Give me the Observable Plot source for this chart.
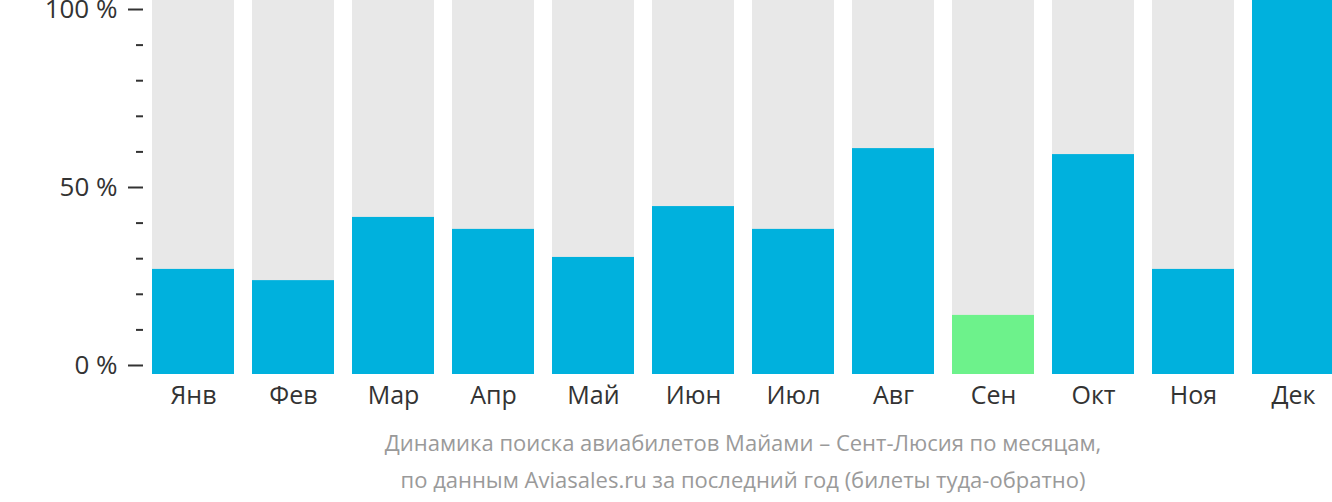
<!DOCTYPE html>
<html>
<head>
<meta charset="utf-8">
<script src="https://cdn.jsdelivr.net/npm/d3@7"></script>
<script src="https://cdn.jsdelivr.net/npm/@observablehq/plot@0.6"></script>
<style>
  html, body { margin: 0; padding: 0; background: #fff; }
  body { width: 1332px; height: 502px; overflow: hidden; font-family: "Open Sans", sans-serif; }
  #caption { position: absolute; left: 143px; width: 1200px; top: 424px; text-align: center; color: #9a9a9a; font-size: 22px; line-height: 37px; }
</style>
</head>
<body>
<div id="chart"></div>
<div id="caption">Динамика поиска авиабилетов Майами – Сент-Люсия по месяцам,<br>по данным Aviasales.ru за последний год (билеты туда-обратно)</div>
<script>
const months = ["Янв", "Фев", "Мар", "Апр", "Май", "Июн", "Июл", "Авг", "Сен", "Окт", "Ноя", "Дек"];
const values = [28.1, 25.1, 42.0, 38.8, 31.3, 44.9, 38.8, 60.4, 15.8, 58.8, 28.1, 100];
const highlight = ["Сен"];
const majorTicks = [0, 50, 100];
const minorTicks = [10, 20, 30, 40, 60, 70, 80, 90];

const yMin = -2.53, yMax = 102.53;
const data = months.map((m, i) => ({month: m, value: values[i], low: highlight.includes(m)}));

const chart = Plot.plot({
  width: 1332,
  height: 420,
  marginTop: 0,
  marginBottom: 46,
  marginLeft: 143,
  marginRight: 0,
  style: {fontFamily: "'Open Sans', sans-serif", color: "#333", background: "#fff"},
  x: {domain: months, range: [143, 1343], paddingInner: 0.18, paddingOuter: 0.09, label: null},
  y: {domain: [yMin, yMax], label: null},
  marks: [
    Plot.barY(data, {x: "month", y1: yMin, y2: yMax, fill: "#e8e8e8"}),
    Plot.barY(data, {x: "month", y1: yMin, y2: d => yMin + d.value / 100 * (yMax - yMin), fill: d => d.low ? "#6df28b" : "#00b1dd"}),
    Plot.axisY({ticks: majorTicks, tickSize: 15, tickPadding: 11, strokeWidth: 2, tickFormat: d => d + " %", fontSize: 26, stroke: "#333", fill: "#333"}),
    Plot.axisY({ticks: minorTicks, tickSize: 7, strokeWidth: 2, tickFormat: null, text: null, stroke: "#333"}),
    Plot.axisX({tickSize: 0, tickPadding: 12, fontSize: 25, fill: "#333"})
  ]
});
document.getElementById("chart").appendChild(chart);
</script>
</body>
</html>
